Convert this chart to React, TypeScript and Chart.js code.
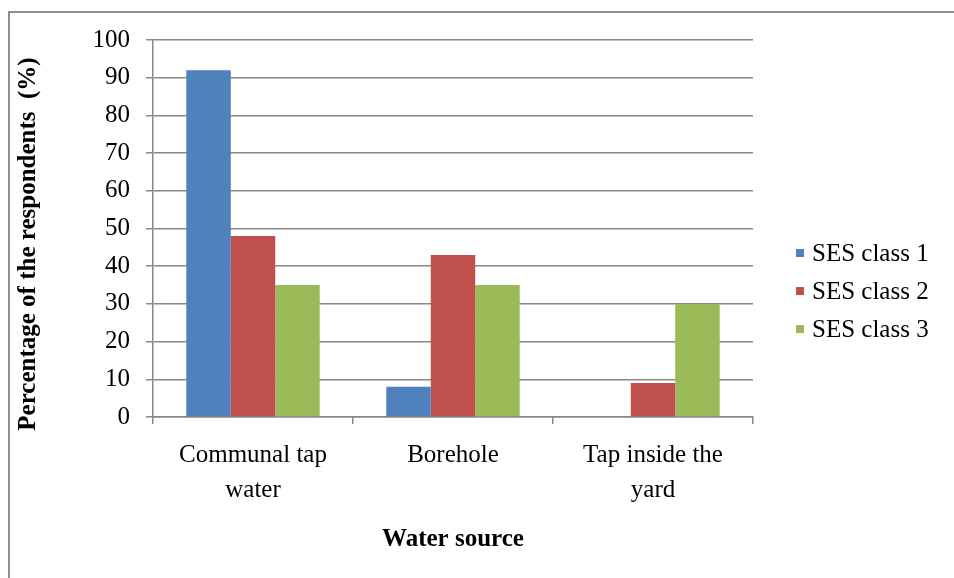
import React, { useEffect, useRef } from "react";
import { Chart, registerables } from "chart.js";

Chart.register(...registerables);

const categories: (string | string[])[] = [["Communal tap", "water"], "Borehole", ["Tap inside the", "yard"]];
const seriesLabels = ["SES class 1", "SES class 2", "SES class 3"];
const ses1 = [92, 8, 0];
const ses2 = [48, 43, 9];
const ses3 = [35, 35, 30];
const seriesColors = ["#4F81BD", "#C0504D", "#9BBB59"];
const yAxisTitle = "Percentage of the respondents  (%)";
const xAxisTitle = "Water source";

const FONT = "'Liberation Serif', 'Times New Roman', serif";
const GRID = "#878787";

const extrasPlugin = {
  id: "extras",
  afterDraw(chart: any) {
    const ctx = chart.ctx;
    ctx.save();
    // legend
    ctx.font = `25px ${FONT}`;
    ctx.textBaseline = "middle";
    ctx.textAlign = "left";
    const ys = [253, 291, 329];
    chart.data.datasets.forEach((ds: any, i: number) => {
      const y = ys[i];
      ctx.fillStyle = ds.backgroundColor;
      ctx.fillRect(796, y - 4, 8, 8);
      ctx.fillStyle = "#000";
      ctx.fillText(ds.label, 812, y + 1);
    });
    // y axis title
    ctx.translate(29, 244);
    ctx.rotate(-Math.PI / 2);
    ctx.font = `bold 25px ${FONT}`;
    ctx.textAlign = "center";
    ctx.textBaseline = "middle";
    ctx.fillStyle = "#000";
    ctx.fillText(yAxisTitle, 0, 0);
    ctx.restore();
  },
};

export default function App() {
  const ref = useRef<HTMLCanvasElement | null>(null);
  useEffect(() => {
    if (!ref.current) return;
    const data = [ses1, ses2, ses3];
    const chart = new Chart(ref.current, {
      type: "bar",
      data: {
        labels: categories,
        datasets: seriesLabels.map((label, i) => ({
          label,
          data: data[i],
          backgroundColor: seriesColors[i],
          borderWidth: 0,
          categoryPercentage: 0.667,
          barPercentage: 1,
        })),
      },
      options: {
        responsive: false,
        animation: false,
        layout: { padding: { left: 10, right: 201, top: 40, bottom: 23 } },
        plugins: {
          legend: { display: false },
          tooltip: { enabled: false },
        },
        scales: {
          x: {
            grid: {
              display: true,
              drawOnChartArea: false,
              drawTicks: true,
              tickLength: 7,
              color: GRID,
              lineWidth: 1.5,
              offset: true,
            },
            border: { display: true, color: GRID, width: 1.5 },
            ticks: {
              color: "#000",
              font: { family: FONT, size: 25, lineHeight: "35px" as any },
              padding: 14,
              maxRotation: 0,
              autoSkip: false,
            },
            title: {
              display: true,
              text: xAxisTitle,
              color: "#000",
              font: { family: FONT, size: 25, weight: "bold", lineHeight: 1.2 },
              padding: { top: 3, bottom: 0 },
            },
          },
          y: {
            min: 0,
            max: 100,
            ticks: {
              stepSize: 10,
              color: "#000",
              font: { family: FONT, size: 25 },
              padding: 16,
            },
            grid: {
              color: GRID,
              lineWidth: 1.5,
              drawTicks: true,
              tickLength: 7,
            },
            border: { display: true, color: GRID, width: 1.5 },
            title: { display: false },
            afterFit(scale: any) {
              scale.width = 143;
            },
          },
        },
      },
      plugins: [extrasPlugin],
    });
    return () => chart.destroy();
  }, []);

  return (
    <div style={{ position: "absolute", left: 0, top: 0, width: 954, height: 578, background: "#fff" }}>
      <div
        style={{
          position: "absolute",
          left: 8,
          top: 11,
          width: 946,
          height: 567,
          borderTop: "2px solid #8e8e8e",
          borderLeft: "2px solid #8e8e8e",
          boxSizing: "border-box",
        }}
      />
      <canvas ref={ref} width={954} height={578} style={{ position: "absolute", left: 0, top: 0, display: "block" }} />
    </div>
  );
}
